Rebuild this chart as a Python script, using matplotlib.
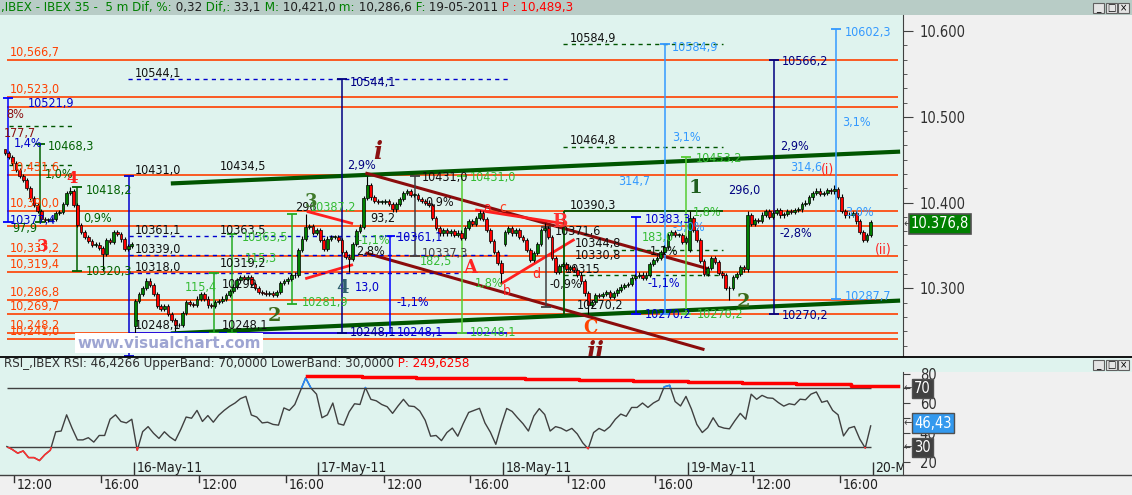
import matplotlib
matplotlib.use("Agg")
import matplotlib.pyplot as plt
from matplotlib.patches import Rectangle
from matplotlib.lines import Line2D
import numpy as np

plt.rcParams['font.family'] = ['DejaVu Sans']
plt.rcParams['font.stretch'] = 'condensed'

# ---------------- data ----------------
# 10-minute candles (two 5-min bars each); candle j is centred on bar 31 + 2*j,
# bar 0 = 13-May-11 09:00, 102 bars per session
closes = [
    10458, 10453, 10446, 10438, 10431, 10426, 10417, 10405, 10397, 10390,
    10381, 10380, 10380, 10381, 10388, 10389, 10398, 10411, 10413, 10397,
    10374, 10366, 10360, 10355, 10351, 10351, 10347, 10340, 10356, 10354,
    10366, 10363, 10357, 10346, 10349, 10352, 10285, 10293, 10300, 10309,
    10304, 10293, 10279, 10276, 10279, 10270, 10263, 10257, 10257, 10271,
    10284, 10282, 10281, 10288, 10293, 10288, 10280, 10279, 10284, 10285,
    10288, 10292, 10297, 10302, 10310, 10313, 10311, 10313, 10305, 10300,
    10296, 10295, 10293, 10294, 10292, 10296, 10306, 10308, 10311, 10315,
    10316, 10345, 10358, 10372, 10373, 10365, 10368, 10356, 10346, 10358,
    10360, 10360, 10356, 10342, 10337, 10334, 10352, 10367, 10372, 10405,
    10420, 10406, 10402, 10401, 10401, 10402, 10398, 10392, 10398, 10404,
    10411, 10413, 10409, 10409, 10404, 10402, 10400, 10397, 10382, 10370,
    10364, 10368, 10364, 10367, 10362, 10365, 10359, 10370, 10378, 10375,
    10382, 10388, 10381, 10368, 10355, 10342, 10330, 10318, 10366, 10370,
    10364, 10368, 10360, 10356, 10345, 10333, 10341, 10352, 10368, 10370,
    10360, 10335, 10319, 10326, 10328, 10323, 10325, 10321, 10316, 10308,
    10294, 10281, 10284, 10292, 10291, 10293, 10296, 10290, 10294, 10298,
    10302, 10304, 10305, 10312, 10314, 10316, 10312, 10316, 10328, 10333,
    10335, 10342, 10348, 10362, 10366, 10362, 10362, 10354, 10359, 10382,
    10368, 10356, 10332, 10317, 10324, 10335, 10331, 10318, 10315, 10300,
    10300, 10313, 10317, 10325, 10322, 10385, 10375, 10380, 10379, 10386,
    10390, 10383, 10388, 10391, 10385, 10387, 10390, 10389, 10391, 10392,
    10398, 10400, 10406, 10411, 10414, 10410, 10411, 10415, 10413, 10416,
    10407, 10390, 10385, 10386, 10388, 10378, 10366, 10356, 10362, 10377,
]
first_bar = 31
open_gaps = {0: 10462, 36: 10256, 138: 10352, 189: 10345}
high_marks = {0: 10461, 18: 10418.2, 83: 10387.2, 100: 10431.0, 131: 10391,
              149: 10376, 189: 10390.3, 205: 10390, 229: 10421.0}
low_marks = {27: 10320.3, 36: 10248.1, 47: 10250, 95: 10319.2, 137: 10306,
             161: 10270.2, 200: 10286.6}

# RSI sampled every 3 bars from bar 32
rsi = [
    30.5, 28.5, 26, 27.5, 23, 23, 21, 25, 28, 40.5,
    41, 52, 43, 35, 35, 36.5, 33.5, 38, 38, 49,
    52, 47.5, 46.5, 49, 28, 40.6, 44, 39.5, 36, 40.5,
    37, 34.5, 42, 50.5, 49.7, 55, 47.5, 51.5, 47, 51.7,
    55, 57.8, 60, 63, 64.5, 51.9, 50.5, 46.5, 47, 45.5,
    45, 56.7, 55, 59, 68, 77, 70, 66, 50, 52,
    60, 46, 45, 54, 59.5, 59, 70.5, 62.5, 61.5, 59,
    57.5, 53, 58, 62.5, 58, 57.6, 54.6, 48.3, 37.5, 38,
    34.5, 40, 43, 37.5, 46, 53.6, 55, 56.4, 46.5, 40.2,
    32, 45, 56.3, 54.3, 50, 46, 41, 51.2, 56.2, 52.2,
    41, 44, 43, 41, 42.8, 39, 33, 29, 40, 42.8,
    41, 44, 49, 52.5, 51, 57, 57, 60, 57, 60,
    62, 71, 72, 61, 58, 64.5, 56, 45.5, 40, 43.3,
    50, 44.2, 43, 42.5, 48, 53, 49, 66, 62.5, 65.2,
    63.5, 63.2, 60.3, 57.9, 59.5, 58.8, 62.6, 62.2, 66, 67.5,
    60.5, 61.5, 55, 52, 37.7, 43, 44.1, 35.5, 29.5, 44.5,
]
rsi_first_bar = 32
rsi_step = 3
band_bars = [198, 228, 258, 288, 318, 348, 378, 408, 438, 468, 498, 524]
band_vals = [78.6, 77.9, 77.2, 76.8, 76.1, 75.6, 75.0, 74.2, 73.4, 72.6, 71.8, 71.8]

levels = [10566.7, 10523.0, 10511.0, 10431.6, 10390.0, 10373.0, 10337.2,
          10319.4, 10286.8, 10269.7, 10248.2, 10241.0]
level_labels = [10566.7, 10523.0, 10431.6, 10390.0, 10337.2, 10319.4,
                10286.8, 10269.7, 10248.2, 10241.0]

days = ['13-May-11', '16-May-11', '17-May-11', '18-May-11', '19-May-11', '20-May-11']
bars_per_day = 102

# ---------------- layout ----------------
W, H = 1132, 495
MINT = '#dff3ee'
GRAYBG = '#f0f0f0'
fig = plt.figure(figsize=(W / 100, H / 100), dpi=100, facecolor=GRAYBG)


def fx(px):
    return px / W


def fy(py):
    return 1 - py / H


def fbox(x0, y0, x1, y1, fc, ec='none', lw=0.8, z=0):
    fig.add_artist(Rectangle((fx(x0), fy(y1)), (x1 - x0) / W, (y1 - y0) / H,
                             transform=fig.transFigure, fc=fc, ec=ec, lw=lw, zorder=z))


def fmt(v):
    return f"{v:,.1f}".replace('.', ',')


fbox(0, 0, W, 15, '#b8ccc6')
fbox(903, 357, W, 372, MINT)
fbox(0, 475, W, H, GRAYBG)

# title bar
axt = fig.add_axes([0, fy(15), 1, 15 / H])
axt.axis('off')
GREEN, DARK, RED = '#008000', '#202020', '#ff0000'
parts = [(",IBEX - IBEX 35 -  5 m Dif, %:", GREEN), (" 0,32", DARK), (" Dif,:", GREEN),
         (" 33,1", DARK), (" M:", GREEN), (" 10,421,0", DARK), (" m:", GREEN),
         (" 10,286,6", DARK), (" F:", GREEN), (" 19-05-2011", DARK), (" P : 10,489,3", RED)]
t = axt.text(0.001, 0.05, parts[0][0], color=parts[0][1], fontsize=9.5, va='bottom')
for s, c in parts[1:]:
    t = axt.annotate(s, xy=(1, 0), xycoords=t, va='bottom', ha='left', color=c, fontsize=9.5)

# window buttons
for yb in (3, 360):
    for i, g in enumerate(['_', '□', '×']):
        x0 = 1093 + i * 12.5
        fbox(x0, yb, x0 + 11, yb + 10, '#e4e4e4', '#606060', 0.8, 5)
        fig.text(fx(x0 + 5.5), fy(yb + 5), g, ha='center', va='center', fontsize=7,
                 color='black', zorder=6)

# ---------------- main price panel ----------------
ax = fig.add_axes([0, fy(356), fx(903), (356 - 15) / H])
ax.set_facecolor(MINT)
ax.set_xlim(28.22, 526.84)
ax.set_ylim(10221.1, 10618.7)
for s in ['top', 'left', 'bottom']:
    ax.spines[s].set_visible(False)
ax.spines['right'].set_color('#404040')
ax.yaxis.tick_right()
ax.set_yticks([10300, 10400, 10500, 10600])
ax.set_yticklabels(['10.300', '10.400', '10.500', '10.600'])
ax.set_yticks([10600 - k * 100 / 6 for k in range(23)], minor=True)
ax.tick_params(axis='y', which='major', length=7, color='#404040', pad=5,
               labelsize=10.5, labelcolor='#303030')
ax.tick_params(axis='y', which='minor', length=3, color='#404040')
ax.tick_params(axis='x', bottom=False, labelbottom=False)

# horizontal support / resistance lines
ax.hlines(levels, 32, 524, color='#ff4000', lw=1.2, zorder=1)
for lv in level_labels:
    ax.text(33.5, lv + 1.2, fmt(lv), color='#ff4000', fontsize=9, va='bottom', zorder=6)

# channels
ax.plot([123.7, 524.1], [10422.4, 10459.3], color='#005500', lw=3, zorder=2)
ax.plot([123.7, 524.1], [10247.5, 10285.6], color='#005500', lw=3, zorder=2)
ax.plot([230.8, 418.4], [10434.0, 10323.3], color='#8b0c0c', lw=2.2, zorder=2)
ax.plot([230.8, 416.4], [10340.8, 10229.0], color='#8b0c0c', lw=2.2, zorder=2)
ax.plot([198.4, 222.4], [10389.3, 10375.8], color='#ff2020', lw=2, zorder=2)
ax.plot([197.5, 222.4], [10311.7, 10327.2], color='#ff2020', lw=2, zorder=2)
ax.plot([291.4, 338.4], [10391.3, 10375.8], color='#ff2020', lw=2, zorder=2)
ax.plot([305.2, 344.8], [10305.8, 10356.3], color='#ff2020', lw=2, zorder=2)

# dashed reference levels
dash = (0, (3, 3))
ax.hlines(10544.1, 98.9, 308.7, color='#0000cc', lw=1, ls=dash, zorder=2)
ax.hlines([10361.1], 99.5, 258.5, color='#0000cc', lw=1, ls=dash, zorder=2)
ax.hlines([10339.0], 99.5, 308.0, color='#0000cc', lw=1, ls=dash, zorder=2)
ax.hlines([10318.0], 99.5, 282.0, color='#0000cc', lw=1, ls=dash, zorder=2)
ax.hlines(10248.1, 99.5, 308.2, color='#0000ff', lw=1.2, zorder=2)
ax.hlines([10584.9, 10464.8], 339.1, 427.4, color='#005500', lw=1, ls=dash, zorder=2)
ax.hlines([10344.8], 366.7, 427.4, color='#005500', lw=1, ls=dash, zorder=2)
ax.hlines([10315.0], 339.6, 427.4, color='#005500', lw=1, ls=dash, zorder=2)
ax.hlines([10489.2, 10443.8], 33, 68, color='#005500', lw=1, ls=dash, zorder=2)
ax.hlines(10390.3, 339.6, 427.4, color='#005500', lw=1.3, zorder=2)
ax.vlines(339.6, 10270.2, 10390.3, color='#005500', lw=1.3, zorder=2)


def measure(bar, top, bottom, color):
    ax.vlines(bar, bottom, top, color=color, lw=1.1, zorder=3)
    ax.plot([bar, bar], [top, bottom], ls='none', marker='_', ms=7, mew=1.3,
            color=color, zorder=3)


measure(32.6, 10521.9, 10377.3, '#0000ff')
measure(50.3, 10468.3, 10377.0, '#006000')
measure(70.7, 10418.2, 10320.3, '#006000')
measure(99.5, 10431.0, 10221.1, '#0000cc')
measure(146.4, 10318.0, 10248.1, '#22aa22')
measure(156.3, 10363.5, 10248.1, '#22aa22')
measure(189.4, 10387.2, 10281.9, '#22aa22')
measure(217.1, 10544.1, 10248.1, '#000080')
measure(243.6, 10361.1, 10248.1, '#0000ff')
measure(257.4, 10431.0, 10337.3, '#404040')
measure(283.3, 10431.0, 10248.1, '#55cc33')
measure(329.7, 10371.6, 10278.5, '#404040')
measure(379.4, 10383.3, 10270.2, '#0000ff')
measure(395.4, 10584.9, 10270.2, '#3399ff')
measure(407.0, 10453.2, 10270.2, '#55cc33')
measure(455.6, 10566.2, 10270.2, '#000080')
measure(489.8, 10602.3, 10287.7, '#3399ff')

# ---- candles ----
n = len(closes)
xs = first_bar + 2 * np.arange(n)
opens = [open_gaps.get(0, closes[0])] + closes[:-1]
for j, v in open_gaps.items():
    opens[j] = v
o = np.array(opens, dtype=float)
c = np.array(closes, dtype=float)
hi = np.maximum(o, c) + 2.5
lo = np.minimum(o, c) - 2.5
for j, v in high_marks.items():
    hi[j] = v
for j, v in low_marks.items():
    lo[j] = v
ax.vlines(xs, lo, hi, color='black', lw=0.8, zorder=4)
body_h = np.maximum(np.abs(c - o), 0.8)
cols = np.where(c >= o, '#008000', '#ff0000')
ax.bar(xs, body_h, bottom=np.minimum(o, c), width=1.5, color=cols,
       edgecolor='black', linewidth=0.5, zorder=5)

# ---- annotations ----
NAVY, BLUE, LBLUE = '#000080', '#0000cc', '#3399ff'
DGREEN, LGREEN, BLACK, MAROON = '#006000', '#33bb33', '#101010', '#8b1010'
labels = [
    ('10521,9', 43.7, 10516, BLUE), ('1,4%', 35.9, 10468.3, BLUE),
    ('8%', 31.5, 10503.2, MAROON), ('177,7', 30.4, 10481, MAROON),
    ('1,0%', 53.1, 10433.3, DGREEN), ('10468,3', 54.7, 10464.8, DGREEN),
    ('10418,2', 75.7, 10414.6, DGREEN), ('10320,3', 75.7, 10320.2, DGREEN),
    ('0,9%', 74.0, 10382, DGREEN), ('97,9', 34.8, 10370.3, DGREEN),
    ('10377,4', 33.7, 10379.6, BLUE),
    ('10544,1', 102.8, 10551, BLACK), ('10431,0', 102.8, 10437.9, BLACK),
    ('10434,5', 149.7, 10441.8, BLACK),
    ('10361,1', 102.8, 10368, BLACK), ('10339,0', 102.8, 10345.8, BLACK),
    ('10318,0', 102.8, 10324.8, BLACK), ('10248,1', 102.8, 10257.2, BLACK),
    ('10363,5', 149.7, 10368, BLACK), ('10363,5', 161.8, 10358.7, LGREEN),
    ('115,3', 163.5, 10335.3, LGREEN), ('115,4', 130.4, 10300.4, LGREEN),
    ('10319,2', 149.7, 10329.5, BLACK), ('10248,1', 150.8, 10257, BLACK),
    ('10292', 150.8, 10304, BLACK),
    ('296', 191.1, 10394.8, BLACK), ('10387,2', 199.4, 10394.8, LGREEN),
    ('10281,9', 195.0, 10282.9, LGREEN),
    ('10544,1', 221.5, 10540.5, NAVY), ('10248,1', 221.5, 10248, NAVY),
    ('2,9%', 219.8, 10443.8, NAVY), ('93,2', 232.6, 10381.6, BLACK),
    ('-1,1%', 225.9, 10356.3, LGREEN), ('2,8%', 225.0, 10343.5, BLACK),
    ('13,0', 224.2, 10300.4, BLUE), ('-1,1%', 247.4, 10282.9, BLUE),
    ('10361,1', 247.4, 10358.7, BLUE), ('10248,1', 247.4, 10248, BLUE),
    ('10431,0', 261.3, 10429.8, BLACK), ('10337,3', 261.3, 10341, '#404040'),
    ('182,5', 260.0, 10331, LGREEN), ('0,9%', 262.9, 10399.5, BLACK),
    ('10431,0', 287.7, 10429.8, LGREEN), ('10248,1', 287.7, 10248, LGREEN),
    ('1,8%', 290.5, 10306, LGREEN),
    ('10371,6', 334.7, 10366, BLACK), ('10344,8', 345.7, 10352.8, BLACK),
    ('10330,8', 345.7, 10337.7, BLACK), ('10315', 340.2, 10322.5, BLACK),
    ('-0,9%', 331.9, 10303.9, BLACK), ('10270,2', 346.8, 10280.5, BLACK),
    ('10390,3', 342.9, 10397.1, BLACK),
    ('10584,9', 342.9, 10591.8, BLACK), ('10464,8', 342.9, 10471.8, BLACK),
    ('10383,3', 384.4, 10380.8, BLUE), ('-1,1%', 386.0, 10306.2, BLUE),
    ('1,1%', 387.0, 10343.5, BLACK), ('183,0', 382.7, 10358.7, LGREEN),
    ('10584,9', 399.3, 10581.3, LBLUE), ('3,1%', 399.3, 10476.4, LBLUE),
    ('314,7', 369.5, 10424, LBLUE), ('10453,2', 412.5, 10451.9, LGREEN),
    ('1,8%', 410.9, 10389, LGREEN), ('-3,0%', 399.3, 10371.5, LBLUE),
    ('10270,2', 384.4, 10269.5, BLUE), ('10270,2', 413.0, 10269.5, LGREEN),
    ('10566,2', 460.0, 10563.9, NAVY), ('10270,2', 460.0, 10268.9, NAVY),
    ('2,9%', 458.9, 10464.8, NAVY), ('296,0', 430.2, 10414.6, NAVY),
    ('-2,8%', 458.9, 10364.5, NAVY),
    ('10602,3', 494.8, 10598.8, LBLUE), ('10287,7', 494.8, 10291, LBLUE),
    ('3,1%', 493.1, 10493.9, LBLUE), ('314,6', 464.4, 10441.4, LBLUE),
    ('3,0%', 494.8, 10389, LBLUE),
]
for txt, bx, py, col in labels:
    ax.text(bx, py, txt, color=col, fontsize=9, ha='left', va='center', zorder=6)

serif = ['DejaVu Serif']
waves = [
    ('i', 236.9, 10458.9, '#8b1010', 17, 'italic'),
    ('ii', 356.8, 10226.0, '#8b1010', 17, 'italic'),
    ('A', 287.7, 10323.7, '#ff2222', 13, 'normal'),
    ('B', 337.4, 10377.3, '#ff3030', 13, 'normal'),
    ('C', 354.0, 10253.7, '#ff4400', 13, 'normal'),
    ('1', 412.0, 10416.9, '#1f5e1f', 14, 'normal'),
    ('2', 438.5, 10284.0, '#3a6a1a', 14, 'normal'),
    ('3', 200.0, 10400.6, '#3f7a2a', 13, 'normal'),
    ('2', 180.0, 10267.7, '#3a6a1a', 14, 'normal'),
    ('4', 217.6, 10300.4, '#2f5f6f', 13, 'normal'),
]
for txt, bx, py, col, fs, st in waves:
    ax.text(bx, py, txt, color=col, fontsize=fs, fontweight='bold', style=st,
            family=serif, fontstretch='normal', ha='center', va='center', zorder=7,
            clip_on=True)

small = [('a', 297.1, 10393.6, '#ff2020'), ('c', 306.0, 10393.6, '#ff4020'),
         ('b', 308.2, 10296.9, '#ff2020'), ('d', 324.2, 10316.7, '#ff2020'),
         ('(i)', 485.4, 10439.1, '#ff2020'), ('(ii)', 515.8, 10345.8, '#ff2020')]
for txt, bx, py, col in small:
    ax.text(bx, py, txt, color=col, fontsize=10, ha='center', va='center', zorder=7)
for txt, bx, py in [('3', 52, 10348.2), ('4', 68, 10428.6)]:
    ax.text(bx, py, txt, color='#ff2020', fontsize=12, fontweight='bold',
            family=serif, fontstretch='normal', ha='center', va='center', zorder=7)

fig.text(fx(77), fy(343), 'www.visualchart.com', color='#9ea5d2', fontsize=11,
         fontweight='bold', fontstretch='normal', va='center', zorder=8,
         bbox=dict(fc='white', ec='none', pad=1.5))

# current price box
fig.text(fx(904), fy(224), '←', fontsize=8, va='center', color='#404040')
fig.text(fx(940), fy(224), '10.376,8', ha='center', va='center', color='white', fontsize=10.5,
         zorder=8, bbox=dict(boxstyle='square,pad=0.15', fc='#008000', ec='#505050', lw=1.2))

# ---------------- RSI panel ----------------
ax2 = fig.add_axes([0, fy(475), fx(903), (475 - 357) / H])
ax2.set_facecolor(MINT)
ax2.set_xlim(28.22, 526.84)
ax2.set_ylim(11.2, 91.2)
for s in ['top', 'left', 'bottom']:
    ax2.spines[s].set_visible(False)
ax2.spines['right'].set_color('#404040')
ax2.spines['right'].set_bounds(11.2, 81.0)
ax2.yaxis.tick_right()
ax2.set_yticks([20, 30, 40, 50, 60, 70, 80])
ax2.set_yticklabels(['20', '', '40', '', '60', '', '80'])
ax2.tick_params(axis='y', length=5, color='#404040', pad=7, labelsize=10.5, labelcolor='#303030')
ax2.tick_params(axis='x', bottom=False, labelbottom=False)

rx = rsi_first_bar + rsi_step * np.arange(len(rsi))
ax2.hlines([70, 30], rx[0], rx[-1], color='#404040', lw=1, zorder=2)
ax2.plot(rx, rsi, color='#404040', lw=1, zorder=3)
low_line, = ax2.plot(rx, rsi, color='#ff3030', lw=1.1, zorder=4)
low_line.set_clip_path(Rectangle((0, 0), 600, 30, transform=ax2.transData))
high_line, = ax2.plot(rx, rsi, color='#2288ff', lw=1.1, zorder=4)
high_line.set_clip_path(Rectangle((0, 70), 600, 30, transform=ax2.transData))
ax2.step(band_bars, band_vals, where='post', color='#ff0000', lw=2.5, zorder=4)

t = ax2.text(4 / 903, 0.949, 'RSI_,IBEX RSI: 46,4266 UpperBand: 70,0000 LowerBand: 30,0000',
             transform=ax2.transAxes, color='#303030', fontsize=9.5, va='center')
ax2.annotate(' P: 249,6258', xy=(1, 0), xycoords=t, va='bottom', ha='left',
             color='#ff0000', fontsize=9.5)

# day separators and time ticks
for d, name in enumerate(days):
    b0 = d * bars_per_day
    if d > 0:
        ax2.vlines(b0, 11.2, 20.0, color='#303030', lw=1, zorder=5)
        ax2.annotate(name, xy=(b0, 15.9), xytext=(2, 0), textcoords='offset points',
                     va='center', ha='left', fontsize=10, color='#202020',
                     annotation_clip=True, clip_on=True)
    for off, lab in ((36, '12:00'), (84, '16:00')):
        bx = b0 + off
        if bx < 526:
            ax2.plot([bx, bx], [-0.008, -0.06], color='#303030', lw=1,
                     transform=ax2.get_xaxis_transform(), clip_on=False)
            ax2.annotate(lab, xy=(bx, -0.085), xycoords=ax2.get_xaxis_transform(),
                         xytext=(2, 0), textcoords='offset points', va='center',
                         ha='left', fontsize=10, color='#202020', annotation_clip=False)

# RSI value boxes
for val, txt, fc in ((70, '70', '#404040'), (30, '30', '#404040'), (46.43, '46,43', '#3399ee')):
    yy = 357 + (91.2 - val) * 1.475
    fig.text(fx(904), fy(yy), '←', fontsize=8, va='center', color='#404040')
    fig.text(fx(914), fy(yy), txt, ha='left', va='center', color='white', fontsize=10.5, zorder=8,
             bbox=dict(boxstyle='square,pad=0.15', fc=fc, ec='#505050', lw=1))

fig.add_artist(Line2D([0, 1], [fy(357), fy(357)], transform=fig.transFigure, color='black', lw=1.3))
fig.add_artist(Line2D([0, 1], [fy(475), fy(475)], transform=fig.transFigure, color='#404040', lw=1))

fig.savefig('out.png', dpi=100, facecolor=fig.get_facecolor())
